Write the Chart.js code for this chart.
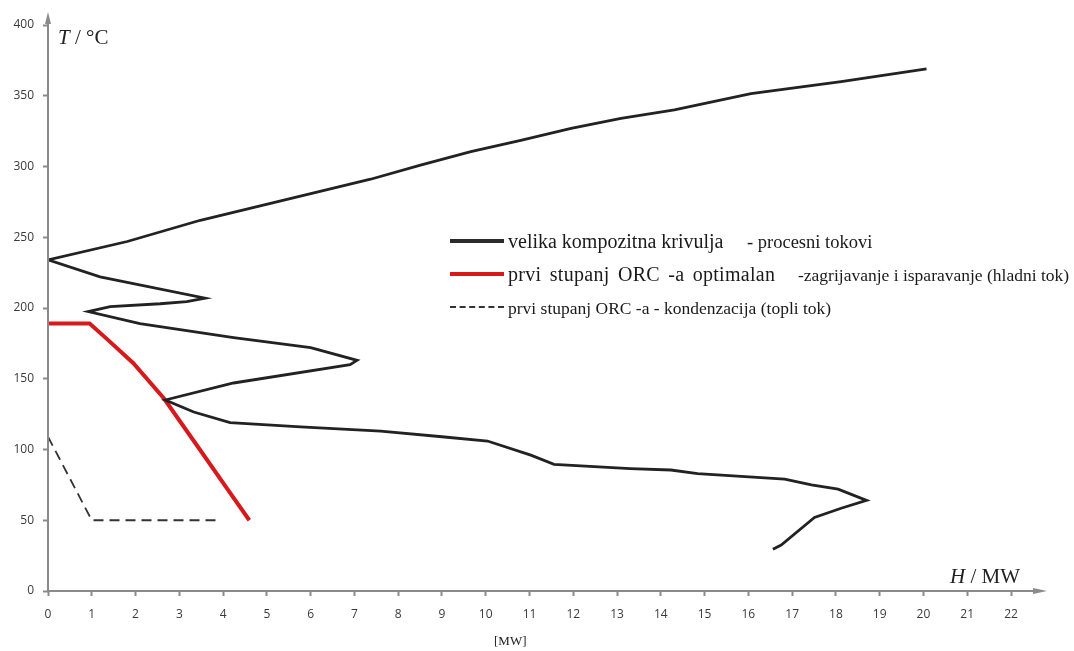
<!DOCTYPE html>
<html>
<head>
<meta charset="utf-8">
<script src="https://cdn.jsdelivr.net/npm/chart.js@4"></script>
<style>
    html, body { margin: 0; padding: 0; background: #fff; }
    #wrap { position: relative; width: 1074px; height: 651px; overflow: hidden; }
    #chart { position: absolute; left: 0; top: 0; }
    .lbl { position: absolute; font-family: "Liberation Serif", "DejaVu Serif", serif; color: #222; white-space: pre; line-height: 1; }
    .sample { position: absolute; left: 450px; width: 54px; }
    .ltext { position: absolute; font-family: "Liberation Serif", serif; color: #1a1a1a; white-space: pre; line-height: 22px; height: 22px; }
</style>
</head>
<body>
<div id="wrap">
    <canvas id="chart" width="1074" height="651"></canvas>

    <div class="lbl" style="left:58px; top:27px; font-size:21px;"><i>T</i> / °C</div>
    <div class="lbl" style="left:950px; top:566px; font-size:21px;"><i>H</i> / MW</div>
    <div class="lbl" style="left:494px; top:634px; font-size:13px;">[MW]</div>

    <!-- legend -->
    <span class="sample" style="top:239px; border-top:4px solid #2b2b2b;"></span>
    <span class="ltext" style="left:508px; top:230px; font-size:20px;">velika kompozitna krivulja</span>
    <span class="ltext" style="left:747px; top:231px; font-size:18.5px;">- procesni tokovi</span>

    <span class="sample" style="top:272px; border-top:4px solid #d7191c;"></span>
    <span class="ltext" style="left:508px; top:263px; font-size:20px; word-spacing:3px; letter-spacing:0.3px;">prvi stupanj ORC -a optimalan</span>
    <span class="ltext" style="left:798px; top:264px; font-size:17.5px;">-zagrijavanje i isparavanje (hladni tok)</span>

    <span class="sample" style="top:306px; border-top:2px dashed #333;"></span>
    <span class="ltext" style="left:508px; top:297px; font-size:17.5px;">prvi stupanj ORC -a - kondenzacija (topli tok)</span>
</div>

<script>
// Grand composite curve (process streams), traced in drawing order
const gccH = [20.07, 18.12, 16.06, 14.31, 13.09, 11.95, 10.8, 9.66, 8.51, 7.37, 3.48, 1.81, 0,
    1.19, 3.59, 3.17, 2.56, 1.42, 0.92,
    2.1, 4.24, 6.0, 7.06,
    6.9, 4.24, 2.68,
    3.33, 4.16, 5.77, 7.6, 9.0, 10.04, 11.03, 11.56, 13.3, 14.23, 14.84, 16.83, 17.44, 18.05, 18.7,
    18.12, 17.51, 16.75, 16.56];
const gccT = [369, 360, 351.5, 340, 334, 327, 318.5, 310.5, 301, 291, 262, 247, 234,
    222, 207, 204.5, 203, 201, 197.5,
    189, 179, 172, 163,
    160, 147, 135,
    126.5, 119, 116, 113, 109, 106, 96, 89.5, 86.5, 85.5, 83, 79, 75, 72, 64,
    58.5, 52, 32.5, 29.5];

// ORC stage 1, heating and evaporation (cold stream)
const orcHotH = [0, 0.95, 1.35, 1.95, 2.65, 3.4, 4.1, 4.6];
const orcHotT = [189, 189, 178, 161, 136, 103, 72, 50];

// ORC stage 1, condensation (hot stream)
const condH = [0, 1.0, 3.9];
const condT = [109, 50, 50];

const xTicks = [0, 1, 2, 3, 4, 5, 6, 7, 8, 9, 10, 11, 12, 13, 14, 15, 16, 17, 18, 19, 20, 21, 22];
const yTicks = [0, 50, 100, 150, 200, 250, 300, 350, 400];

function toPoints(xs, ys) {
    return xs.map((x, i) => ({ x: x, y: ys[i] }));
}

// Draw axis lines with arrow heads
const axisArrows = {
    id: 'axisArrows',
    afterDraw(chart) {
        const ctx = chart.ctx;
        const a = chart.chartArea;
        ctx.save();
        ctx.strokeStyle = '#8a8a8a';
        ctx.fillStyle = '#8a8a8a';
        ctx.lineWidth = 2;
        ctx.beginPath();
        ctx.moveTo(a.left, a.bottom);
        ctx.lineTo(a.right + 28, a.bottom);
        ctx.moveTo(a.left, a.bottom);
        ctx.lineTo(a.left, a.top - 8);
        ctx.stroke();
        // x arrow
        ctx.beginPath();
        ctx.moveTo(a.right + 36, a.bottom);
        ctx.lineTo(a.right + 22, a.bottom - 3);
        ctx.lineTo(a.right + 22, a.bottom + 3);
        ctx.closePath();
        ctx.fill();
        // y arrow
        ctx.beginPath();
        ctx.moveTo(a.left, a.top - 13);
        ctx.lineTo(a.left - 3, a.top - 1);
        ctx.lineTo(a.left + 3, a.top - 1);
        ctx.closePath();
        ctx.fill();
        ctx.restore();
    }
};

const ctx = document.getElementById('chart');
new Chart(ctx, {
    type: 'scatter',
    data: {
        datasets: [
            {
                label: 'velika kompozitna krivulja - procesni tokovi',
                data: toPoints(gccH, gccT),
                showLine: true,
                borderColor: '#222222',
                borderWidth: 2.8,
                pointRadius: 0,
                tension: 0
            },
            {
                label: 'prvi stupanj ORC-a optimalan - zagrijavanje i isparavanje (hladni tok)',
                data: toPoints(orcHotH, orcHotT),
                showLine: true,
                borderColor: '#d7191c',
                borderWidth: 4,
                pointRadius: 0,
                tension: 0
            },
            {
                label: 'prvi stupanj ORC-a - kondenzacija (topli tok)',
                data: toPoints(condH, condT),
                showLine: true,
                borderColor: '#333333',
                borderWidth: 1.8,
                borderDash: [10, 6],
                pointRadius: 0,
                tension: 0
            }
        ]
    },
    options: {
        responsive: false,
        animation: false,
        layout: { padding: { top: 25, right: 63, bottom: 0, left: 0 } },
        plugins: {
            legend: { display: false },
            tooltip: { enabled: false }
        },
        scales: {
            x: {
                type: 'linear',
                min: 0,
                max: 22,
                afterBuildTicks: (scale) => { scale.ticks = xTicks.map(v => ({ value: v })); },
                afterFit: (scale) => { scale.height = 60; },
                border: { display: false },
                grid: {
                    drawOnChartArea: false,
                    drawTicks: true,
                    tickLength: 5,
                    tickColor: '#8a8a8a',
                    tickWidth: 2
                },
                ticks: {
                    padding: 11,
                    maxRotation: 0,
                    autoSkip: false,
                    color: '#3a3a3a',
                    font: { family: 'Open Sans', size: 12 }
                }
            },
            y: {
                type: 'linear',
                min: 0,
                max: 400,
                afterBuildTicks: (scale) => { scale.ticks = yTicks.map(v => ({ value: v })); },
                afterFit: (scale) => { scale.width = 48; },
                border: { display: false },
                grid: {
                    drawOnChartArea: false,
                    drawTicks: true,
                    tickLength: 5,
                    tickColor: '#8a8a8a',
                    tickWidth: 2
                },
                ticks: {
                    padding: 9,
                    color: '#3a3a3a',
                    font: { family: 'Open Sans', size: 12 }
                }
            }
        }
    },
    plugins: [axisArrows]
});
</script>
</body>
</html>
